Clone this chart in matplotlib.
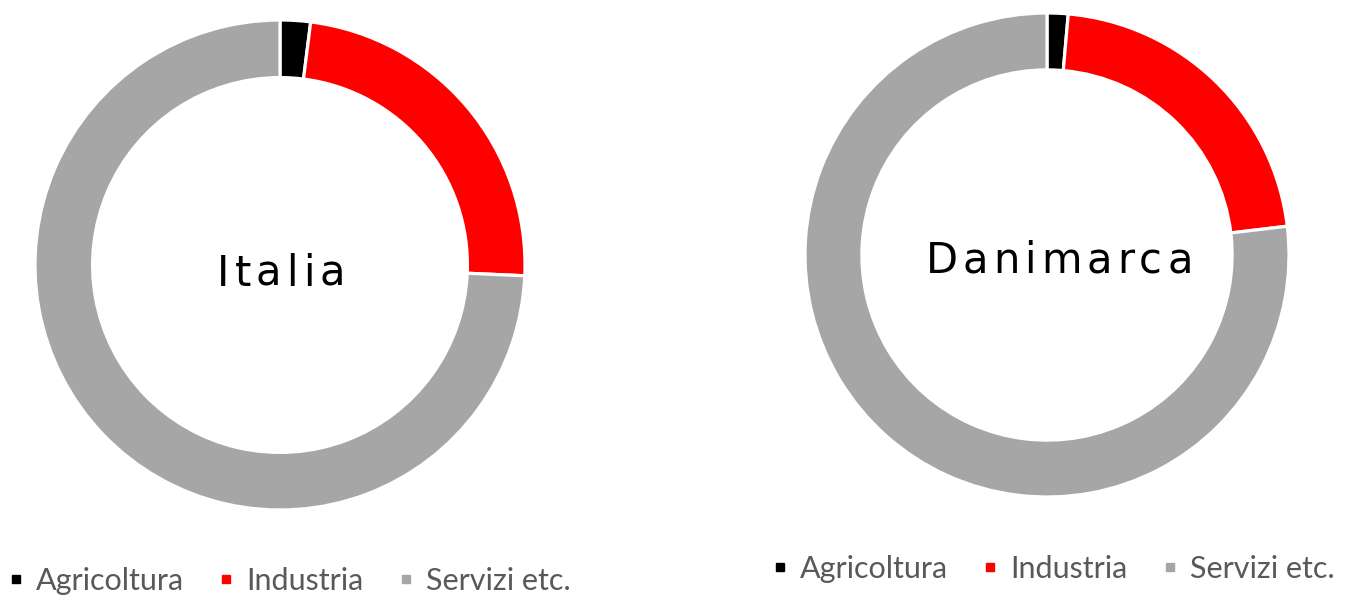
"""Two donut charts: sector shares, Italia vs Danimarca."""
import matplotlib
matplotlib.use("Agg")
import matplotlib.pyplot as plt
import matplotlib.lines as mlines

W, H = 1352, 599

SECTORS = ["Agricoltura", "Industria", "Servizi etc."]
COLORS = ["#000000", "#ff0000", "#a6a6a6"]

ITALIA = [2.0, 23.7, 74.3]
DANIMARCA = [1.4, 21.7, 76.9]

# (name, values, centre x px, centre y px, radius px, legend y px, legend x px)
PANELS = [
    ("Italia", ITALIA, 280, 265, 245, 581, 8),
    ("Danimarca", DANIMARCA, 1047, 255, 242, 569, 772),
]


def spaced_text(fig, cx, cy, s, spacing, **kw):
    """Draw s centred at (cx, cy) in figure px, with extra letter spacing in px."""
    r = fig.canvas.get_renderer()
    widths = []
    for ch in s:
        t = fig.text(0, 0, ch, **kw)
        widths.append(t.get_window_extent(r).width)
        t.remove()
    total = sum(widths) + spacing * (len(s) - 1)
    x = cx - total / 2
    for ch, w in zip(s, widths):
        fig.text(x / W, 1 - cy / H, ch, ha="left", va="center", **kw)
        x += w + spacing


fig = plt.figure(figsize=(W / 100, H / 100), dpi=100)

for name, vals, cx, cy, rad, ly, lx in PANELS:
    ax = fig.add_axes([(cx - rad) / W, 1 - (cy + rad) / H, 2 * rad / W, 2 * rad / H])
    ax.pie(vals, colors=COLORS, startangle=90, counterclock=False, radius=1,
           wedgeprops=dict(width=0.235, edgecolor="white", linewidth=2.3))
    ax.set_xlim(-1, 1)
    ax.set_ylim(-1, 1)
    ax.set_aspect("equal")
    ax.axis("off")

    spaced_text(fig, cx + 1 if name == "Italia" else cx + 12, cy + 9 if name == "Italia" else cy + 6,
                name, 5, fontsize=30, color="black", family="DejaVu Sans")

    handles = [mlines.Line2D([], [], color=c, marker="s", linestyle="none",
                             markersize=6, label=lab)
               for c, lab in zip(COLORS, SECTORS)]
    leg = fig.legend(handles=handles, loc="center left", ncol=3,
                     bbox_to_anchor=(lx / W, 1 - ly / H), frameon=False,
                     prop={"family": "Lato", "size": 22},
                     handlelength=0.5, handletextpad=0.4, columnspacing=1.15,
                     borderpad=0, borderaxespad=0)
    for t in leg.get_texts():
        t.set_color("#595959")

fig.savefig("out.png", dpi=100)
